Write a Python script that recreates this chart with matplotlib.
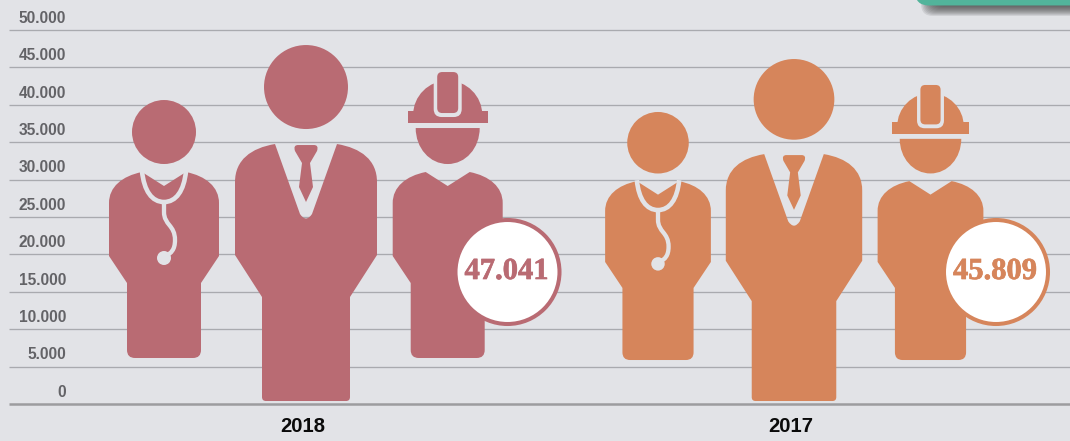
import numpy as np
import matplotlib
matplotlib.use('Agg')
import matplotlib.pyplot as plt
import matplotlib.patheffects as pe
from matplotlib.path import Path
from matplotlib.patches import PathPatch, Ellipse, FancyBboxPatch

# data
years = ['2018', '2017']
totals = [47041, 45809]
total_labels = ['47.041', '45.809']
doctor_top = [40640, 39040]
doctor_bottom = [6150, 5880]
manager_top = [47990, 46120]
manager_bottom = [400, 400]
worker_top = [44380, 42650]
worker_bottom = [6150, 5880]
tick_values = [0, 5000, 10000, 15000, 20000, 25000, 30000, 35000, 40000, 45000, 50000]
tick_labels = ['0', '5.000', '10.000', '15.000', '20.000', '25.000', '30.000', '35.000', '40.000', '45.000', '50.000']

BG = '#E2E3E7'
GRID = '#A9AAAF'
COLORS = ['#B96B73', '#D6855B']

# axes scale: pixels per unit on the y axis
PX = 374 / 50000
Y0 = 404

M, L, Q, C, Z = Path.MOVETO, Path.LINETO, Path.CURVE3, Path.CURVE4, Path.CLOSEPOLY


def build(*segs):
    verts, codes = [], []
    for code, pts in segs:
        if code == Z:
            verts.append((0, 0))
            codes.append(Z)
            continue
        for p in pts:
            verts.append(p)
            codes.append(code)
    return np.array(verts, float), codes


def body_shape(dy, bottom):
    # shoulders, neck notch, sides and legs of the doctor / worker
    return build(
        (M, [(-22, 100 + dy)]), (L, [(0, 114 + dy)]), (L, [(22, 100 + dy)]),
        (C, [(42, 104 + dy), (55, 115 + dy), (55, 131 + dy)]),
        (L, [(55, 184 + dy), (37, 211 + dy), (37, bottom - 8)]),
        (Q, [(37, bottom), (29, bottom)]),
        (L, [(-29, bottom)]),
        (Q, [(-37, bottom), (-37, bottom - 8)]),
        (L, [(-37, 211 + dy), (-55, 184 + dy), (-55, 131 + dy)]),
        (C, [(-55, 115 + dy), (-42, 104 + dy), (-22, 100 + dy)]),
        (Z, []))


MANAGER_BODY = build(
    (M, [(-31, 99)]), (L, [(-6, 169)]), (Q, [(0, 178), (6, 169)]), (L, [(31, 99)]),
    (C, [(55, 103), (71, 115), (71, 137)]),
    (L, [(71, 210), (44, 252), (44, 352)]),
    (Q, [(44, 356), (40, 356)]),
    (L, [(-40, 356)]),
    (Q, [(-44, 356), (-44, 352)]),
    (L, [(-44, 252), (-71, 210), (-71, 137)]),
    (C, [(-71, 115), (-55, 103), (-31, 99)]),
    (Z, []))
TIE = build(
    (M, [(-8, 100)]), (L, [(8, 100)]), (Q, [(13, 100), (11, 106)]),
    (L, [(4, 118), (7, 142), (0, 157), (-7, 142), (-4, 118), (-11, 106)]),
    (Q, [(-13, 100), (-8, 100)]), (Z, []))
STETH_U = build((M, [(-22, 71)]), (C, [(-20, 91), (-12, 102), (0, 102)]), (C, [(12, 102), (20, 91), (22, 71)]))
STETH_TUBE = build((M, [(0, 102)]), (L, [(0, 112)]), (C, [(0, 125), (11, 125), (11, 140)]), (C, [(11, 150), (7, 153), (2, 156)]))
DOME = build((M, [(-34.6, 43)]), (C, [(-34.6, 24), (-19, 8.5), (0, 8.5)]), (C, [(19, 8.5), (34.6, 24), (34.6, 43)]), (Z, []))
BRIM = build((M, [(-34.6, 39)]), (L, [(-40, 39), (-40, 51), (40, 51), (40, 39), (34.6, 39)]), (Z, []))
FACE = build((M, [(-32, 56)]), (L, [(32, 56)]), (C, [(32, 76), (18, 92), (0, 92)]), (C, [(-18, 92), (-32, 76), (-32, 56)]), (Z, []))


def rounded(x0, x1, y0, y1, r):
    return build(
        (M, [(x0 + r, y0)]), (L, [(x1 - r, y0)]), (Q, [(x1, y0), (x1, y0 + r)]),
        (L, [(x1, y1 - r)]), (Q, [(x1, y1), (x1 - r, y1)]),
        (L, [(x0 + r, y1)]), (Q, [(x0, y1), (x0, y1 - r)]),
        (L, [(x0, y0 + r)]), (Q, [(x0, y0), (x0 + r, y0)]), (Z, []))


class Figure:
    # maps the local pictogram units to data coordinates
    def __init__(self, ax, cx, top, bottom, height):
        self.ax, self.cx, self.top = ax, cx, top
        self.s = (top - bottom) * PX / height

    def shape(self, shape, color, z=3, fill=True, lw=0):
        v, codes = shape
        v = v.copy()
        v[:, 0] = self.cx + v[:, 0] * self.s
        v[:, 1] = self.top - v[:, 1] * self.s / PX
        if fill:
            self.ax.add_patch(PathPatch(Path(v, codes), fc=color, ec='none', zorder=z))
        else:
            self.ax.add_patch(PathPatch(Path(v, codes), fc='none', ec=color, lw=lw, zorder=z, capstyle='butt'))

    def disc(self, y, r, color, z=3):
        r = r * self.s
        self.ax.add_patch(Ellipse((self.cx, self.top - y * self.s / PX), 2 * r, 2 * r / PX, fc=color, ec='none', zorder=z))


fig = plt.figure(figsize=(10.7, 4.41), dpi=100, facecolor=BG)
ax = fig.add_axes([0, 0, 1, 1])
ax.set_xlim(0, 1070)
ax.set_ylim((Y0 - 441) / PX, Y0 / PX)
ax.axis('off')

for val, lab in zip(tick_values, tick_labels):
    if val == 0:
        ax.hlines(val, 9, 1070, color='#9C9C9F', lw=1.8, zorder=1)
    else:
        ax.hlines(val, 9, 1070, color=GRID, lw=0.95, zorder=1)
    ax.text(66, val + 11.7 / PX, lab, ha='right', va='center', fontsize=11.2, fontweight='bold',
            family='Liberation Sans', color='#636367')

doctor_x = [164, 658]
manager_x = [306, 794]
worker_x = [447.7, 930.5]
badge_x = [507.5, 996]
year_x = [302.5, 790.5]

for i, year in enumerate(years):
    col = COLORS[i]

    doc = Figure(ax, doctor_x[i], doctor_top[i], doctor_bottom[i], 258)
    doc.disc(32, 32, col)
    doc.shape(body_shape(-28, 258), col)
    doc.shape(STETH_U, BG, z=4, fill=False, lw=3.3)
    doc.shape(STETH_TUBE, BG, z=4, fill=False, lw=3.1)
    doc.disc(158, 7, BG, z=4)

    man = Figure(ax, manager_x[i], manager_top[i], manager_bottom[i], 356)
    man.disc(42, 42, col)
    man.shape(MANAGER_BODY, col)
    man.shape(TIE, col)

    wrk = Figure(ax, worker_x[i], worker_top[i], worker_bottom[i], 286)
    wrk.shape(DOME, col)
    wrk.shape(BRIM, col)
    wrk.shape(rounded(-14, 14, 4, 45, 8), BG, z=4)
    wrk.shape(rounded(-10.5, 10.5, 0, 41, 5), col, z=5)
    wrk.shape(FACE, col)
    wrk.shape(body_shape(0, 286), col)

    # badge with the total
    by = (Y0 - 272) / PX
    ax.add_patch(Ellipse((badge_x[i], by), 104, 104 / PX, fc='white', ec=col, lw=2.9, zorder=6))
    ax.text(badge_x[i] - 1, by + 0.5 / PX, total_labels[i], ha='center', va='center', fontsize=22,
            fontweight='bold', family='Liberation Serif', color=col, zorder=7,
            path_effects=[pe.withStroke(linewidth=0.5, foreground=col)])

    ax.text(year_x[i], (Y0 - 427) / PX, year, ha='center', va='center', fontsize=14.6,
            fontweight='bold', family='Liberation Sans', color='#0A0A0A')

# teal box cut off at the top right, with its soft shadow
over = fig.add_axes([0, 0, 1, 1])
over.set_xlim(0, 1070)
over.set_ylim(441, 0)
over.axis('off')
over.patch.set_alpha(0)
for k in range(12):
    over.add_patch(FancyBboxPatch((921 + k * 1.2, -40), 200, 56 - k * 1.0, boxstyle='round,pad=0,rounding_size=12',
                                  fc='#3A3A3A', ec='none', alpha=0.11, zorder=8))
over.add_patch(FancyBboxPatch((915, -40), 200, 45.5, boxstyle='round,pad=0,rounding_size=14',
                              fc='#52B49B', ec='none', zorder=9))

plt.savefig('out.png', dpi=100, facecolor=BG)
